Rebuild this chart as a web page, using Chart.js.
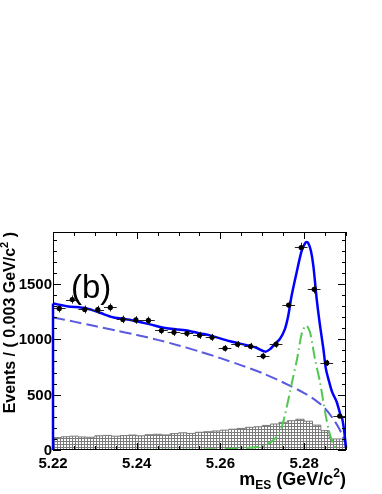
<!DOCTYPE html>
<html>
<head>
<meta charset="utf-8">
<script src="https://cdn.jsdelivr.net/npm/chart.js@4.4.1/dist/chart.umd.min.js"></script>
<style>
    html, body { margin: 0; padding: 0; background: #fff; }
    #myChart { display: block; }
</style>
</head>
<body>
<canvas id="myChart" width="382" height="494"></canvas>
<script>
// m_ES fit, panel (b)

// data points (bin centres, events per bin)
const dataX = [5.2215, 5.2246, 5.2276, 5.2307, 5.2337, 5.2367, 5.2398, 5.2428, 5.2459, 5.2489, 5.2520, 5.2550,
               5.2580, 5.2611, 5.2641, 5.2672, 5.2702, 5.2733, 5.2763, 5.2793, 5.2824, 5.2854, 5.2885];
const dataY = [1279, 1360, 1270, 1268, 1288, 1180, 1175, 1171, 1080, 1063, 1054, 1036,
               1018, 919, 955, 937, 849, 955, 1310, 1830, 1452, 787, 307];
const binHalfWidth = 0.00152;

// total fit curve
const fitX = [5.2200, 5.2233, 5.2281, 5.2312, 5.2343, 5.2391, 5.2432, 5.2472, 5.2520, 5.2551, 5.2575, 5.2623,
              5.2683, 5.2707, 5.2719, 5.2730, 5.2742, 5.2754, 5.2762, 5.2770, 5.2782, 5.2794, 5.2802, 5.2806,
              5.2810, 5.2816, 5.2822, 5.2830, 5.2838, 5.2846, 5.2852, 5.2860, 5.2867, 5.2878, 5.2886, 5.2891,
              5.2896, 5.2900];
const fitTotal = [1324, 1300, 1279, 1240, 1200, 1171, 1135, 1100, 1080, 1054, 1036, 982,
                  928, 889, 913, 958, 1003, 1093, 1213, 1393, 1604, 1799, 1868, 1880,
                  1868, 1802, 1664, 1364, 1123, 913, 733, 613, 523, 432, 327, 282,
                  162, 20];

// combinatoric background (ARGUS)
const argusX = [5.220, 5.225, 5.230, 5.235, 5.240, 5.245, 5.250, 5.255, 5.260, 5.265, 5.270, 5.275,
                5.280, 5.2825, 5.285, 5.2875, 5.289, 5.2898, 5.290];
const argusY = [1198, 1160, 1120, 1080, 1040, 995, 945, 890, 830, 765, 695, 610,
                515, 455, 375, 250, 145, 65, 0];

// signal
const signalX = [5.220, 5.230, 5.240, 5.250, 5.255, 5.260, 5.265, 5.270, 5.2725, 5.2742, 5.2754, 5.2771,
                 5.2783, 5.2795, 5.2805, 5.2814, 5.2826, 5.2838, 5.2850, 5.2862, 5.2874, 5.2885, 5.2900];
const signalY = [0, 0, 1, 2, 4, 8, 15, 35, 85, 162, 315, 612,
                 820, 1063, 1125, 1063, 820, 612, 342, 135, 27, 2, 0];

// BB background (hatched histogram)
const bbStart = 5.22;
const bbStep = 0.002;
const bbY = [105, 112, 120, 125, 118, 115, 128, 132, 125, 130, 135, 128,
             138, 142, 136, 148, 155, 150, 160, 165, 172, 180, 188, 195,
             205, 210, 222, 235, 250, 265, 278, 260, 225, 175, 100];

// axes
const xMin = 5.22, xMax = 5.29;
const yMin = 0, yMax = 1970;
const xMajorTicks = [5.22, 5.24, 5.26, 5.28];
const xTickLabels = ['5.22', '5.24', '5.26', '5.28'];
const xMinorStep = 0.005;
const yMajorTicks = [0, 500, 1000, 1500];
const yTickLabels = ['0', '500', '1000', '1500'];
const yMinorStep = 100;

const FONT = '"Liberation Sans", Arial, Helvetica, sans-serif';

document.addEventListener('DOMContentLoaded', function() {
    initializeChart();
});

function makeHatch(ctx) {
    const pc = document.createElement('canvas');
    pc.width = 3;
    pc.height = 3;
    const p = pc.getContext('2d');
    p.fillStyle = '#7a7a7a';
    p.fillRect(0, 0, 1, 3);
    p.fillRect(0, 0, 3, 1);
    return ctx.createPattern(pc, 'repeat');
}

// draw text pieces with sub/superscripts
function drawRich(ctx, segs, x, y, align) {
    let w = 0;
    segs.forEach(s => {
        ctx.font = 'bold ' + s[1] + 'px ' + FONT;
        w += ctx.measureText(s[0]).width;
    });
    let cx = align === 'right' ? x - w : x;
    ctx.textAlign = 'left';
    ctx.textBaseline = 'alphabetic';
    segs.forEach(s => {
        ctx.font = 'bold ' + s[1] + 'px ' + FONT;
        ctx.fillText(s[0], cx, y + s[2]);
        cx += ctx.measureText(s[0]).width;
    });
}

const errorBars = {
    id: 'errorBars',
    afterDatasetDraw(chart, args) {
        if (chart.data.datasets[args.index].label !== 'Fit total') return;
        const ctx = chart.ctx, xs = chart.scales.x, ys = chart.scales.y;
        ctx.save();
        ctx.strokeStyle = '#222';
        ctx.lineWidth = 1;
        dataX.forEach((xc, i) => {
            const v = dataY[i], err = Math.sqrt(v);
            const px = Math.round(xs.getPixelForValue(xc)) + 0.5;
            const py = Math.round(ys.getPixelForValue(v)) + 0.5;
            ctx.beginPath();
            ctx.moveTo(xs.getPixelForValue(xc - binHalfWidth), py);
            ctx.lineTo(xs.getPixelForValue(xc + binHalfWidth), py);
            ctx.moveTo(px, ys.getPixelForValue(v - err));
            ctx.lineTo(px, ys.getPixelForValue(v + err));
            ctx.stroke();
        });
        ctx.restore();
    }
};

const frameAndLabels = {
    id: 'frameAndLabels',
    afterDraw(chart) {
        const ctx = chart.ctx, xs = chart.scales.x, ys = chart.scales.y;
        const a = chart.chartArea;
        ctx.save();
        ctx.strokeStyle = '#000';
        ctx.lineWidth = 1;
        ctx.strokeRect(a.left + 0.5, a.top + 0.5, a.right - a.left - 1, a.bottom - a.top - 1);

        ctx.beginPath();
        // x ticks, bottom and top
        for (let v = xMin; v <= xMax + 1e-9; v += xMinorStep) {
            const major = xMajorTicks.some(t => Math.abs(t - v) < 1e-6);
            const len = major ? 7 : 4;
            const px = Math.round(xs.getPixelForValue(v)) + 0.5;
            ctx.moveTo(px, a.bottom);
            ctx.lineTo(px, a.bottom - len);
            ctx.moveTo(px, a.top);
            ctx.lineTo(px, a.top + len);
        }
        // y ticks, left and right
        for (let v = yMin; v <= yMax; v += yMinorStep) {
            const major = yMajorTicks.indexOf(v) >= 0;
            const len = major ? 8 : 4;
            const py = Math.round(ys.getPixelForValue(v)) + 0.5;
            ctx.moveTo(a.left, py);
            ctx.lineTo(a.left + len, py);
            ctx.moveTo(a.right, py);
            ctx.lineTo(a.right - len, py);
        }
        ctx.stroke();

        ctx.fillStyle = '#000';
        ctx.font = 'bold 15px ' + FONT;
        ctx.textAlign = 'center';
        ctx.textBaseline = 'alphabetic';
        xMajorTicks.forEach((v, i) => {
            ctx.fillText(xTickLabels[i], xs.getPixelForValue(v), a.bottom + 18);
        });
        ctx.textAlign = 'right';
        ctx.textBaseline = 'middle';
        yMajorTicks.forEach((v, i) => {
            ctx.fillText(yTickLabels[i], a.left - 1, ys.getPixelForValue(v) + 1);
        });

        // axis titles
        drawRich(ctx, [['m', 18, 0], ['ES', 12, 4], [' (GeV/c', 18, 0], ['2', 12, -8], [')', 18, 0]],
                 a.right, 485, 'right');
        ctx.save();
        ctx.translate(15, a.top);
        ctx.rotate(-Math.PI / 2);
        drawRich(ctx, [['Events / ( 0.003 GeV/c', 16, 0], ['2', 11, -7], [' )', 16, 0]], 0, 0, 'right');
        ctx.restore();

        // panel label
        ctx.font = '33px ' + FONT;
        ctx.textAlign = 'left';
        ctx.textBaseline = 'alphabetic';
        ctx.fillText('(b)', 71, 298);
        ctx.restore();
    }
};

function initializeChart() {
    const canvas = document.getElementById('myChart');
    const ctx = canvas.getContext('2d');

    const points = dataX.map((x, i) => ({ x: x, y: dataY[i] }));
    const total = fitX.map((x, i) => ({ x: x, y: fitTotal[i] }));
    const edge = [{ x: fitX[0], y: 0 }, { x: fitX[0], y: fitTotal[0] }];
    const argus = argusX.map((x, i) => ({ x: x, y: argusY[i] }));
    const signal = signalX.map((x, i) => ({ x: x, y: signalY[i] }));
    const bb = bbY.map((v, i) => ({ x: bbStart + bbStep * i, y: v }));
    bb.push({ x: xMax, y: bbY[bbY.length - 1] });

    new Chart(ctx, {
        type: 'scatter',
        data: {
            datasets: [
                {
                    label: 'Data',
                    data: points,
                    order: 0,
                    pointRadius: 2.6,
                    pointBackgroundColor: '#000',
                    pointBorderWidth: 0,
                    showLine: false
                },
                {
                    label: 'Fit total',
                    type: 'line',
                    data: total,
                    order: 1,
                    borderColor: '#0000ff',
                    borderWidth: 2.5,
                    pointRadius: 0,
                    tension: 0.3,
                    fill: false,
                    clip: 4
                },
                {
                    label: 'Fit edge',
                    type: 'line',
                    data: edge,
                    order: 1,
                    borderColor: '#0000ff',
                    borderWidth: 2.5,
                    pointRadius: 0,
                    fill: false,
                    clip: 4
                },
                {
                    label: 'Signal',
                    type: 'line',
                    data: signal,
                    order: 2,
                    borderColor: '#50c850',
                    borderWidth: 2,
                    borderDash: [12, 4, 1.5, 4],
                    pointRadius: 0,
                    tension: 0.3,
                    fill: false
                },
                {
                    label: 'ARGUS',
                    type: 'line',
                    data: argus,
                    order: 3,
                    borderColor: '#5a5ae0',
                    borderWidth: 2,
                    borderDash: [12, 5],
                    pointRadius: 0,
                    tension: 0.3,
                    fill: false
                },
                {
                    label: 'BB background',
                    type: 'line',
                    data: bb,
                    order: 4,
                    stepped: 'after',
                    borderColor: '#7a7a7a',
                    borderWidth: 1,
                    backgroundColor: makeHatch(ctx),
                    pointRadius: 0,
                    fill: 'origin'
                }
            ]
        },
        options: {
            responsive: false,
            animation: false,
            devicePixelRatio: 1,
            layout: { padding: { left: 53, right: 36, top: 232, bottom: 44 } },
            plugins: {
                legend: { display: false },
                tooltip: { enabled: false }
            },
            scales: {
                x: { type: 'linear', min: xMin, max: xMax, display: false },
                y: { type: 'linear', min: yMin, max: yMax, display: false }
            }
        },
        plugins: [errorBars, frameAndLabels]
    });
}
</script>
</body>
</html>
